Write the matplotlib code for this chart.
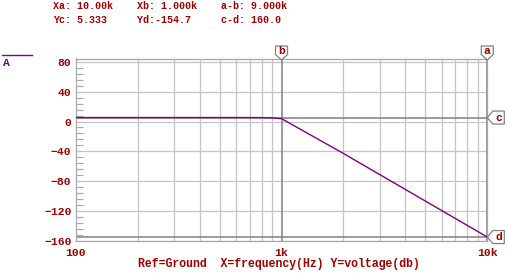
import matplotlib
matplotlib.use("Agg")
import matplotlib.pyplot as plt
import matplotlib.transforms as mtransforms
from matplotlib.patches import Polygon
from matplotlib.ticker import FixedLocator, NullFormatter

# trace (frequency in Hz, voltage in dB)
freq_hz = [100, 200, 500, 700, 800, 900, 1000, 2000, 3000, 5000, 7000, 10000]
volt_db = [5.33, 5.33, 5.33, 5.32, 5.25, 4.9, 3.9, -42.8, -71.0, -106.5, -129.9, -154.7]

# cursors
cursor_x = {"a": 10000, "b": 1000}
cursor_y = {"c": 5.333, "d": -154.7}

y_ticks = [80, 40, 0, -40, -80, -120, -160]
y_minor = [v for v in range(-160, 81, 8) if v not in y_ticks]
x_ticks = [100, 1000, 10000]
x_tick_labels = ["100", "1k", "10k"]
x_grid = [200, 300, 400, 500, 600, 700, 800, 900, 2000, 3000, 4000, 5000, 6000, 7000, 8000, 9000]

header_1 = "Xa: 10.00k    Xb: 1.000k    a-b: 9.000k"
header_2 = "Yc: 5.333     Yd:-154.7     c-d: 160.0"
x_title = "Ref=Ground  X=frequency(Hz) Y=voltage(db)"

TXT = "#a00000"
TRACE = "#800080"
GRID = "#c4c4c4"
CURSOR = "#808080"
MONO = "Liberation Mono"

W, H, DPI = 508, 273, 100
fig = plt.figure(figsize=(W / DPI, H / DPI), dpi=DPI)
fig.patch.set_facecolor("white")

left, right, top, bottom = 75.7, 487.3, 58.5, 241.0
ax = fig.add_axes([left / W, 1 - bottom / H, (right - left) / W, (bottom - top) / H])
ax.set_xscale("log")
ax.set_xlim(100, 10000)
ax.set_ylim(-160, 84.4)

for xv in x_grid:
    ax.axvline(xv, color=GRID, lw=0.9, zorder=1)
for yv in y_ticks:
    ax.axhline(yv, color=GRID, lw=0.9, zorder=1)

for xv in cursor_x.values():
    ax.axvline(xv, color=CURSOR, lw=1.1, zorder=2)
for yv in cursor_y.values():
    ax.axhline(yv, color=CURSOR, lw=1.1, zorder=2)

ax.plot(freq_hz, volt_db, color=TRACE, lw=1.0, zorder=3)

for s in ax.spines.values():
    s.set_color("#a8a8a8")
    s.set_linewidth(0.9)

ax.xaxis.set_major_locator(FixedLocator(x_ticks))
ax.set_xticklabels(x_tick_labels)
ax.xaxis.set_minor_formatter(NullFormatter())
ax.tick_params(axis="x", which="both", length=0, pad=5)
ax.set_yticks(y_ticks)
ax.yaxis.set_minor_locator(FixedLocator(y_minor))
ax.tick_params(axis="y", which="major", length=0, pad=3)
ax.tick_params(axis="y", which="minor", direction="in", length=5, color="#a8a8a8", width=0.8)
for lab in ax.get_xticklabels() + ax.get_yticklabels():
    lab.set_fontfamily(MONO)
    lab.set_fontweight("bold")
    lab.set_fontsize(8.2)
    lab.set_color(TXT)

fig.text(138 / W, 1 - 264 / H, x_title, fontfamily=MONO, fontweight="bold",
         fontsize=8.3, color=TXT, ha="left", va="center")
fig.text(53 / W, 1 - 6 / H, header_1, fontfamily=MONO, fontweight="bold",
         fontsize=7.2, color=TXT, ha="left", va="center")
fig.text(53 / W, 1 - 20 / H, header_2, fontfamily=MONO, fontweight="bold",
         fontsize=7.2, color=TXT, ha="left", va="center")

# trace legend
fig.add_artist(plt.Line2D([2 / W, 32 / W], [1 - 55 / H, 1 - 55 / H], color=TRACE, lw=1.0))
fig.text(3 / W, 1 - 63 / H, "A", fontfamily=MONO, fontweight="bold",
         fontsize=8.2, color=TRACE, ha="left", va="center")

# cursor flags (drawn at figure level, letters on top of the flag shapes)
top_flag = [(0, -1.5), (-6, 4), (-6, 12.5), (6, 12.5), (6, 4)]
right_flag = [(0, 0), (5.5, 6.5), (17, 6.5), (17, -6.5), (5.5, -6.5)]
flag_font = dict(fontfamily=MONO, fontweight="bold", fontsize=8.2, color=TXT,
                 ha="center", va="center", zorder=6)
for name, xv in cursor_x.items():
    px, py = ax.get_xaxis_transform().transform((xv, 1))
    fig.add_artist(Polygon(top_flag, closed=True, facecolor="white", edgecolor=CURSOR, lw=0.9,
                           zorder=5, transform=mtransforms.Affine2D().translate(px, py)))
    fig.text(px / W, (py + 7.5) / H, name, **flag_font)
for name, yv in cursor_y.items():
    px, py = ax.get_yaxis_transform().transform((1, yv))
    fig.add_artist(Polygon(right_flag, closed=True, facecolor="white", edgecolor=CURSOR, lw=0.9,
                           zorder=5, transform=mtransforms.Affine2D().translate(px, py)))
    fig.text((px + 11.5) / W, py / H, name, **flag_font)

fig.savefig("out.png", dpi=DPI)
